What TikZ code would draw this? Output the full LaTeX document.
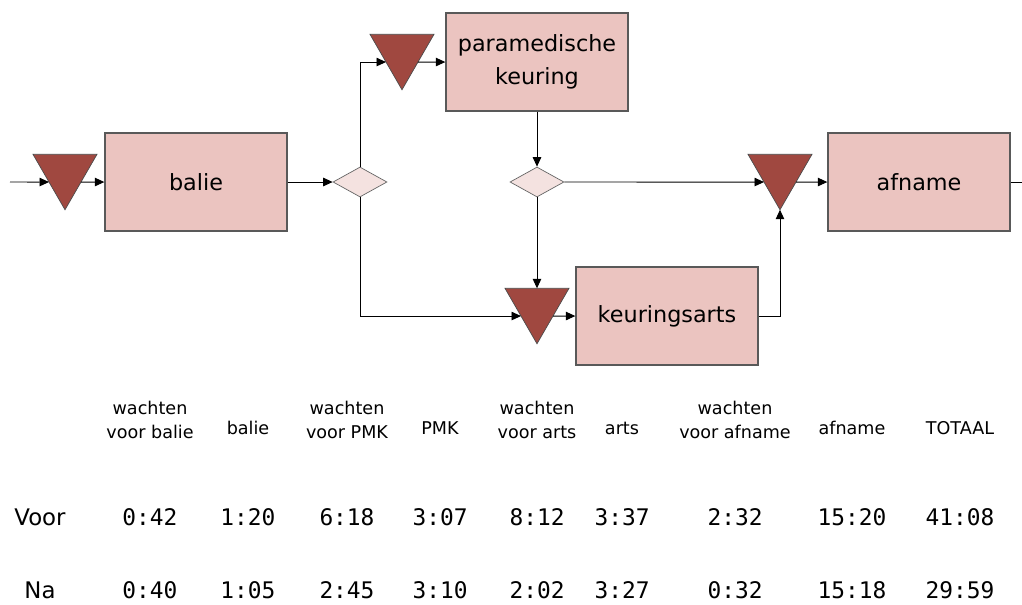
\documentclass[tikz,border=0pt]{standalone}
\usepackage{fontspec}
\setmainfont{DejaVu Sans}
\newfontfamily\numfont{DejaVu Sans Mono}
\usetikzlibrary{shapes.geometric,arrows.meta}

\definecolor{boxfill}{RGB}{235,196,192}
\definecolor{waitfill}{RGB}{160,72,64}
\definecolor{splitfill}{RGB}{244,226,224}

\tikzset{
  stap/.style={draw=black!65, line width=0.8pt, fill=boxfill, minimum width=3.64cm,
    minimum height=1.96cm, align=center, font=\fontsize{12.7}{19}\selectfont},
  wacht/.style={draw=black!70, fill=waitfill, regular polygon, regular polygon sides=3,
    rotate=180, minimum size=1.478cm, inner sep=0pt, outer sep=0pt},
  splits/.style={draw=black!60, fill=splitfill, diamond, minimum width=1.08cm,
    minimum height=0.6cm, inner sep=0pt},
  pijl/.style={-{Triangle[length=1.9mm,width=1.7mm]}, line width=0.55pt},
  kop/.style={font=\fontsize{10}{13.5}\selectfont, align=center},
  tijd/.style={font=\numfont\fontsize{13}{15}\selectfont},
}

\begin{document}
\begin{tikzpicture}[x=0.02cm,y=-0.02cm]
  \useasboundingbox (0,0) rectangle (1022,605);
  % proces
  \coordinate (in) at (10,182);
  \node[wacht] (w1) at (65,172.8) {};
  \node[stap] (balie) at (196,182) {balie};
  \node[splits] (s1) at (360,182) {};
  \node[wacht] (w2) at (402,52.8) {};
  \node[stap] (pmk) at (537,62) {paramedische\\keuring};
  \node[splits] (s2) at (537,182) {};
  \node[wacht] (w3) at (780,172.8) {};
  \node[stap] (afname) at (919,182) {afname};
  \node[wacht] (w4) at (537,306.8) {};
  \node[stap] (arts) at (667,316) {keuringsarts};
  \coordinate (uit) at (1022,182);

  \draw[pijl] (in) -- (w1.side 3);
  \draw[pijl] (w1.side 1) -- (balie);
  \draw[pijl] (balie) -- (s1);
  \draw[pijl] (s1.north) |- (w2.side 3);
  \draw[pijl] (w2.side 1) -- (pmk);
  \draw[pijl] (pmk) -- (s2);
  \draw[pijl] (s2) -- (w3.side 3);
  \draw[pijl] (w3.side 1) -- (afname);
  \draw (afname) -- (uit);
  \draw[pijl] (s2) -- (w4.side 2);
  \draw[pijl] (s1.south) |- (w4.side 3);
  \draw[pijl] (w4.side 1) -- (arts);
  \draw[pijl] (arts) -| (w3.corner 1);

  % tabel
  \node[font=\fontsize{13}{15}\selectfont] (voor) at (40,517) {Voor};
  \node[font=\fontsize{13}{15}\selectfont] (na) at (40,590) {Na};
  \foreach \x/\y/\kop/\v/\n [count=\i] in {
      150/420/{wachten\\voor balie}/0:42/0:40,
      248/428/balie/1:20/1:05,
      347/420/{wachten\\voor PMK}/6:18/2:45,
      440/428/PMK/3:07/3:10,
      537/420/{wachten\\voor arts}/8:12/2:02,
      622/428/arts/3:37/3:27,
      735/420/{wachten\\voor afname}/2:32/0:32,
      852/428/afname/15:20/15:18,
      960/428/TOTAAL/41:08/29:59}{
    \node[kop] (k\i) at (\x,\y) {\kop};
    \node[tijd] (v\i) at (\x,517) {\v};
    \node[tijd] (n\i) at (\x,590) {\n};
  }
\end{tikzpicture}
\end{document}
